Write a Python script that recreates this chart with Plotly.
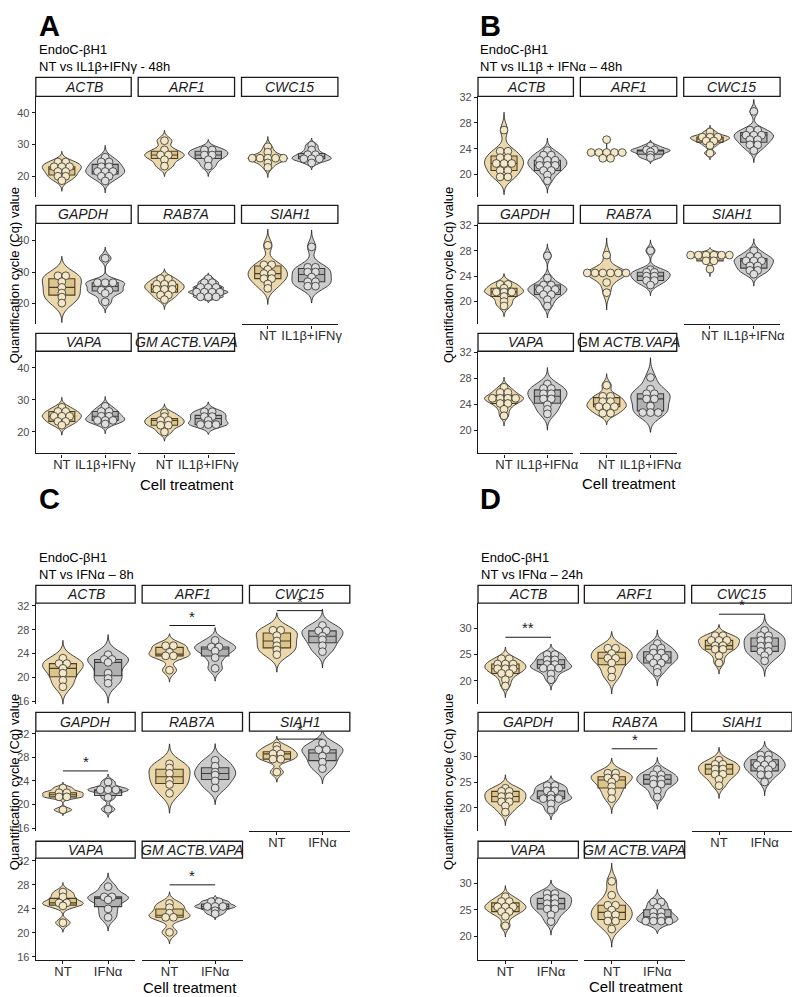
import numpy as np
import plotly.graph_objects as go

# page body has an 8px margin: the figure is drawn 8px in from the top-left corner
OFF = 8
FW, FH = 792, 989
FONT = "Liberation Sans, Arial, sans-serif"


def px(x):
    return (x - OFF) / FW


def py(y):
    return 1 - (y - OFF) / FH


GENES = ["ACTB", "ARF1", "CWC15", "GAPDH", "RAB7A", "SIAH1", "VAPA", "GM ACTB.VAPA"]
STRIP_ITALIC = ["<i>ACTB</i>", "<i>ARF1</i>", "<i>CWC15</i>", "<i>GAPDH</i>", "<i>RAB7A</i>",
                "<i>SIAH1</i>", "<i>VAPA</i>", "<i>GM ACTB.VAPA</i>"]
STRIP_B = STRIP_ITALIC[:7] + ["GM <i>ACTB.VAPA</i>"]

# ---------------- data (Cq values) ----------------
A_NT = {
    "ACTB": [24.5, 24.5, 23.0, 23.0, 23.0, 21.5, 21.5, 20.0, 20.0, 18.6],
    "ARF1": [31.2, 28.3, 26.7, 26.7, 25.2, 23.2],
    "CWC15": [29.3, 27.6, 25.7, 25.7, 25.7, 25.7, 25.7, 24.2, 22.8],
    "GAPDH": [28.8, 28.8, 26.9, 25.1, 23.3, 22.0, 20.1],
    "RAB7A": [27.9, 27.9, 26.1, 26.1, 26.1, 24.5, 24.5, 24.5, 22.7, 22.7, 21.2],
    "SIAH1": [38.5, 32.3, 32.3, 30.8, 29.5, 29.5, 27.9, 27.9, 26.2, 24.8],
    "VAPA": [27.7, 26.4, 26.4, 24.9, 24.9, 24.9, 23.3, 23.3, 22.1],
    "GM ACTB.VAPA": [25.9, 24.8, 23.6, 23.6, 22.1, 22.1, 20.0],
}
A_TR = {
    "ACTB": [26.0, 24.5, 24.5, 23.0, 23.0, 21.5, 21.5, 21.5, 20.0, 20.0, 18.5],
    "ARF1": [28.3, 28.3, 26.7, 26.7, 25.2, 23.2],
    "CWC15": [29.8, 28.3, 26.8, 26.8, 25.5, 25.5, 25.5, 24.2],
    "GAPDH": [34.4, 26.6, 26.6, 26.6, 24.2, 24.2, 23.2, 20.5],
    "RAB7A": [27.9, 26.6, 26.6, 25.1, 25.1, 25.1, 23.6, 23.6, 23.6, 23.6, 22.1, 22.1, 22.1],
    "SIAH1": [38.0, 31.5, 31.5, 30.0, 30.0, 28.4, 26.9, 26.9, 25.5, 25.5],
    "VAPA": [28.0, 26.4, 26.4, 24.9, 24.9, 23.6, 23.6, 23.6, 22.5],
    "GM ACTB.VAPA": [26.3, 26.3, 24.8, 24.8, 23.6, 22.3, 22.3, 22.3],
}
B_NT = {
    "ACTB": [26.9, 23.6, 23.6, 22.6, 22.6, 21.7, 21.7, 21.7, 20.6, 20.6, 19.6, 19.6],
    "ARF1": [25.4, 23.4, 23.4, 23.4, 23.4, 23.4, 22.5, 22.5],
    "CWC15": [26.6, 25.8, 25.8, 25.8, 25.2, 25.2, 24.5, 23.3],
    "GAPDH": [22.7, 22.7, 22.1, 21.5, 21.5, 21.5, 20.8, 20.0, 19.3],
    "RAB7A": [27.3, 24.5, 24.5, 24.5, 24.5, 24.5, 24.5, 23.0, 21.4],
    "SIAH1": [27.3, 27.3, 27.3, 27.3, 27.3, 27.3, 26.4, 26.4, 25.1],
    "VAPA": [26.6, 25.8, 25.8, 24.9, 24.9, 24.9, 24.9, 24.1, 24.1, 23.2, 22.2],
    "GM ACTB.VAPA": [26.9, 25.2, 25.2, 24.4, 24.4, 23.6, 23.6, 23.6, 22.6, 22.6],
}
B_TR = {
    "ACTB": [23.7, 23.0, 23.0, 22.2, 22.2, 22.2, 21.4, 21.4, 21.4, 20.6, 20.6, 19.9, 19.0],
    "ARF1": [24.4, 23.8, 23.8, 23.5, 23.0, 22.6],
    "CWC15": [29.8, 26.9, 26.9, 26.1, 26.1, 26.1, 25.4, 25.4, 24.6, 24.6, 23.7],
    "GAPDH": [27.2, 23.7, 22.6, 22.6, 21.9, 21.9, 21.9, 21.1, 21.1, 20.3, 19.3],
    "RAB7A": [28.0, 25.0, 24.6, 24.6, 24.0, 24.0, 23.3, 23.3, 22.6],
    "SIAH1": [28.0, 27.1, 27.1, 26.4, 26.4, 26.4, 25.6, 25.6, 24.9, 24.9, 24.3],
    "VAPA": [27.1, 26.4, 26.4, 25.6, 25.6, 24.8, 24.8, 23.9, 23.2, 22.5],
    "GM ACTB.VAPA": [28.1, 26.3, 25.6, 25.6, 24.8, 24.8, 23.7, 22.7, 22.7, 22.7],
}
C_NT = {
    "ACTB": [23.2, 22.3, 22.3, 21.5, 20.7, 19.5, 18.4],
    "ARF1": [25.3, 25.3, 24.2, 23.6, 23.6, 21.2],
    "CWC15": [27.9, 27.9, 27.0, 26.1, 25.3, 24.6, 23.8],
    "GAPDH": [22.8, 22.0, 22.0, 21.3, 21.3, 19.1],
    "RAB7A": [26.9, 26.2, 25.3, 24.1, 23.4, 21.9],
    "SIAH1": [29.9, 29.3, 28.6, 28.6, 27.7, 27.7, 25.5],
    "VAPA": [26.8, 26.0, 25.0, 25.0, 24.5, 21.7],
    "GM ACTB.VAPA": [24.9, 24.2, 23.3, 22.6, 22.6, 20.1],
}
C_TR = {
    "ACTB": [23.8, 23.0, 23.0, 22.5, 20.7, 19.8, 19.0],
    "ARF1": [26.2, 25.1, 25.1, 24.4, 23.3, 21.5],
    "CWC15": [28.7, 27.8, 27.8, 26.9, 26.3, 25.3, 24.3],
    "GAPDH": [23.8, 22.5, 22.5, 22.5, 21.2, 19.2],
    "RAB7A": [27.5, 26.5, 25.5, 25.0, 24.0, 22.8],
    "SIAH1": [30.4, 29.3, 29.3, 28.2, 27.2, 26.1],
    "VAPA": [27.7, 26.0, 26.0, 25.5, 24.0, 22.6],
    "GM ACTB.VAPA": [25.2, 25.2, 24.4, 24.4, 24.4, 23.7, 23.2],
}
D_NT = {
    "ACTB": [24.2, 24.2, 23.2, 23.2, 23.2, 22.3, 22.3, 22.3, 21.4, 21.4, 20.2, 19.0],
    "ARF1": [26.2, 26.2, 25.2, 24.3, 24.3, 23.4, 22.0, 20.7],
    "CWC15": [28.6, 28.6, 27.7, 27.7, 27.7, 26.7, 26.7, 26.0, 26.0, 24.8, 23.4],
    "GAPDH": [23.8, 23.2, 23.2, 22.2, 22.2, 21.2, 21.2, 20.4, 19.2],
    "RAB7A": [26.7, 26.7, 25.8, 25.8, 25.0, 24.1, 23.1, 21.8],
    "SIAH1": [29.2, 28.4, 28.4, 27.5, 27.5, 26.5, 26.5, 25.5, 24.3],
    "VAPA": [27.5, 26.6, 26.6, 25.6, 25.6, 25.6, 24.7, 24.7, 23.8, 22.0],
    "GM ACTB.VAPA": [30.4, 27.8, 25.9, 25.9, 25.0, 24.1, 24.1, 22.9, 22.9, 21.4],
}
D_TR = {
    "ACTB": [25.0, 25.0, 24.0, 24.0, 23.1, 23.1, 22.4, 22.4, 22.4, 21.3, 20.2],
    "ARF1": [27.1, 26.2, 26.2, 25.3, 25.3, 24.4, 24.4, 24.4, 23.4, 23.4, 22.4, 21.6],
    "CWC15": [29.6, 28.6, 28.6, 27.7, 27.7, 26.6, 26.6, 25.6, 25.6, 24.8, 23.8],
    "GAPDH": [24.3, 24.3, 23.3, 23.3, 22.5, 21.8, 21.8, 21.8, 20.8, 19.6],
    "RAB7A": [27.4, 26.4, 26.4, 25.5, 25.5, 24.6, 24.6, 23.4, 22.1],
    "SIAH1": [30.2, 30.2, 29.3, 29.3, 28.3, 28.3, 28.3, 27.4, 27.4, 26.4, 26.4, 25.0],
    "VAPA": [28.1, 28.1, 27.2, 27.2, 26.2, 26.2, 25.2, 25.2, 24.1, 22.8],
    "GM ACTB.VAPA": [26.5, 26.5, 25.5, 24.6, 24.6, 23.7, 23.7, 22.9, 22.9, 22.9, 22.9],
}

A_TICKS = [20, 30, 40]
B_TICKS = [20, 24, 28, 32]
C_TICKS = [16, 20, 24, 28, 32]
D_TICKS = [20, 25, 30]

A_XLABELS = ["NT", "IL1β+IFNγ"]
B_XLABELS = ["NT", "IL1β+IFNα"]
CD_XLABELS = ["NT", "IFNα"]

# significance: (panel, gene, y value of bar, label)
SIG = [
    ("C", "ARF1", 28.7, "*"),
    ("C", "CWC15", 31.2, "*"),
    ("C", "GAPDH", 25.7, "*"),
    ("C", "SIAH1", 31.1, "*"),
    ("C", "GM ACTB.VAPA", 28.0, "*"),
    ("D", "ACTB", 28.3, "**"),
    ("D", "CWC15", 32.7, "*"),
    ("D", "RAB7A", 31.4, "*"),
]

# ---------------- styling / layout ----------------
NT_VIOLIN = "#EBD8AC"
TR_VIOLIN = "#CBCBCB"
NT_BOX = "rgba(205,175,110,0.5)"
TR_BOX = "rgba(150,150,150,0.5)"
NT_BOXLINE = "#4a3f25"
TR_BOXLINE = "#3c3c3c"
NT_PT = "#F4E7C6"
TR_PT = "#DEDEDE"
AXC = "#1a1a1a"
DOT_PX = 7.8

ROWS_AB = [((73, 92), (92, 194)), ((202, 220), (221, 322)), ((331, 349), (349, 452))]
ROWS_CD = [((585, 603), (603, 705)), ((713, 732), (732, 833)), ((843, 860), (860, 963))]

PANELS = {
    "A": dict(nt=A_NT, tr=A_TR, ticks=A_TICKS, yrange=[13.3, 45.2], xlabels=A_XLABELS,
              cols=[(36, 132), (139, 236), (243, 340)], rows=ROWS_AB, strip=STRIP_ITALIC,
              letter=(37, 21), title=(37, 45), sub="NT vs IL1β+IFNγ - 48h",
              ytitle=(14.5, 272), xtitle=(188, 483)),
    "B": dict(nt=B_NT, tr=B_TR, ticks=B_TICKS, yrange=[16.4, 32.15], xlabels=B_XLABELS,
              cols=[(481, 577), (584, 681), (688, 785)], rows=ROWS_AB, strip=STRIP_B,
              letter=(481, 21), title=(481, 45), sub="NT vs IL1β + IFNα – 48h",
              ytitle=(452, 272), xtitle=(633, 482)),
    "C": dict(nt=C_NT, tr=C_TR, ticks=C_TICKS, yrange=[15.45, 32.45], xlabels=CD_XLABELS,
              cols=[(36, 136), (143, 244), (251, 352)], rows=ROWS_CD, strip=STRIP_ITALIC,
              letter=(37, 498), title=(37, 557), sub="NT vs IFNα – 8h",
              ytitle=(14.5, 783), xtitle=(191, 990)),
    "D": dict(nt=D_NT, tr=D_TR, ticks=D_TICKS, yrange=[15.5, 34.8], xlabels=CD_XLABELS,
              cols=[(481, 582), (588, 689), (696, 797)], rows=ROWS_CD, strip=STRIP_ITALIC,
              letter=(481, 498), title=(482, 557), sub="NT vs IFNα – 24h",
              ytitle=(452, 783), xtitle=(640, 989)),
}


def nrd0(v):
    v = np.asarray(v, dtype=float)
    n = len(v)
    hi = v.std(ddof=1)
    q75, q25 = np.percentile(v, [75, 25])
    lo = min(hi, (q75 - q25) / 1.34)
    if lo <= 0:
        lo = hi if hi > 0 else (abs(v[0]) if v[0] != 0 else 1.0)
    return 0.9 * lo * n ** -0.2


fig = go.Figure()
axes = {}
shapes = []
annotations = []
axis_of = {}
ax_i = 0
for pkey, P in PANELS.items():
    for gi, gene in enumerate(GENES):
        ax_i += 1
        sfx = "" if ax_i == 1 else str(ax_i)
        xref, yref = "x" + sfx, "y" + sfx
        axis_of[(pkey, gene)] = (xref, yref)
        r, c = divmod(gi, 3)
        x0, x1 = P["cols"][c]
        (s0, s1), (p0, p1) = P["rows"][r]
        left = c == 0
        bottom = gi in (5, 6, 7)
        axes["xaxis" + sfx] = dict(
            domain=[px(x0), px(x1)], range=[0.4, 2.6], anchor=yref, type="linear",
            showgrid=False, zeroline=False, showline=bottom, linecolor=AXC, linewidth=1.3,
            ticks="outside" if bottom else "", ticklen=3, tickwidth=1, tickcolor=AXC,
            tickvals=[1, 2], ticktext=P["xlabels"], showticklabels=bottom,
            ticklabelstandoff=-4,
            tickfont=dict(size=13, color="#2b2b2b", family=FONT), fixedrange=True)
        axes["yaxis" + sfx] = dict(
            domain=[py(p1), py(p0)], range=P["yrange"], anchor=xref,
            showgrid=False, zeroline=False, showline=left, linecolor=AXC, linewidth=1.3,
            ticks="outside" if left else "", ticklen=3, tickwidth=1, tickcolor=AXC,
            tickvals=P["ticks"], showticklabels=left,
            tickfont=dict(size=11, color="#4d4d4d", family=FONT), fixedrange=True)
        shapes.append(dict(type="rect", xref="paper", yref="paper",
                           x0=px(x0), x1=px(x1), y0=py(s1), y1=py(s0),
                           line=dict(color=AXC, width=1.3), fillcolor="white", layer="above"))
        annotations.append(dict(xref="paper", yref="paper", x=px((x0 + x1) / 2),
                                y=py((s0 + s1) / 2), text=P["strip"][gi], showarrow=False,
                                xanchor="center", yanchor="middle",
                                font=dict(size=14, color=AXC, family=FONT)))
        dot_dx = DOT_PX / ((x1 - x0) / 2.2)
        groups = [(P["nt"], NT_VIOLIN, NT_BOX, NT_BOXLINE, NT_PT),
                  (P["tr"], TR_VIOLIN, TR_BOX, TR_BOXLINE, TR_PT)]
        for pos, (data, vcol, bcol, blcol, pcol) in enumerate(groups, start=1):
            vals = np.array(data[gene], dtype=float)
            bw = nrd0(vals)
            fig.add_trace(go.Violin(
                x=[pos] * len(vals), y=vals, xaxis=xref, yaxis=yref,
                bandwidth=bw, spanmode="manual", span=[vals.min() - 3 * bw, vals.max() + 3 * bw],
                scalegroup=f"{pkey}-{gene}", scalemode="width", width=0.9,
                points=False, box_visible=False, meanline_visible=False,
                fillcolor=vcol, line=dict(color=AXC, width=0.8), opacity=1,
                hoverinfo="skip", showlegend=False))
            q1, med, q3 = np.percentile(vals, [25, 50, 75])
            fig.add_trace(go.Box(
                x=[pos], q1=[q1], median=[med], q3=[q3], lowerfence=[q1], upperfence=[q3],
                xaxis=xref, yaxis=yref, width=0.6, whiskerwidth=0, boxpoints=False,
                fillcolor=bcol, line=dict(color=blcol, width=1.1),
                hoverinfo="skip", showlegend=False))
            xs = np.empty(len(vals))
            for v in np.unique(vals):
                idx = np.where(vals == v)[0]
                k = len(idx)
                xs[idx] = pos + (np.arange(k) - (k - 1) / 2) * dot_dx
            fig.add_trace(go.Scatter(
                x=xs, y=vals, xaxis=xref, yaxis=yref, mode="markers",
                marker=dict(size=DOT_PX, color=pcol, line=dict(color="#2e2e2e", width=0.8)),
                hoverinfo="skip", showlegend=False))

    # panel texts
    lx, ly = P["letter"]
    annotations.append(dict(xref="paper", yref="paper", x=px(lx), y=py(ly), text="<b>" + pkey + "</b>",
                            showarrow=False, xanchor="left", yanchor="middle",
                            font=dict(size=29, color="black", family=FONT)))
    tx, ty = P["title"]
    annotations.append(dict(xref="paper", yref="paper", x=px(tx), y=py(ty), text="EndoC-βH1",
                            showarrow=False, xanchor="left", yanchor="middle",
                            font=dict(size=13, color="black", family=FONT)))
    annotations.append(dict(xref="paper", yref="paper", x=px(tx), y=py(ty + 17), text=P["sub"],
                            showarrow=False, xanchor="left", yanchor="middle",
                            font=dict(size=13, color="black", family=FONT)))
    yx, yy = P["ytitle"]
    annotations.append(dict(xref="paper", yref="paper", x=px(yx), y=py(yy),
                            text="Quantification cycle (Cq) value", textangle=-90,
                            showarrow=False, xanchor="center", yanchor="middle",
                            font=dict(size=13, color="black", family=FONT)))
    cx, cy = P["xtitle"]
    annotations.append(dict(xref="paper", yref="paper", x=px(cx), y=py(cy), text="Cell treatment",
                            showarrow=False, xanchor="center", yanchor="middle",
                            font=dict(size=15, color="black", family=FONT)))

for pkey, gene, yv, lab in SIG:
    xref, yref = axis_of[(pkey, gene)]
    fig.add_trace(go.Scatter(x=[1, 2], y=[yv, yv], xaxis=xref, yaxis=yref, mode="lines",
                             line=dict(color=AXC, width=1), hoverinfo="skip", showlegend=False))
    annotations.append(dict(xref=xref, yref=yref, x=1.5, y=yv, text=lab, showarrow=False,
                            xanchor="center", yanchor="bottom", yshift=-1,
                            font=dict(size=15, color=AXC, family=FONT)))

fig.update_layout(
    width=FW, height=FH, autosize=False,
    margin=dict(l=0, r=0, t=0, b=0),
    paper_bgcolor="white", plot_bgcolor="white",
    violinmode="overlay", boxmode="overlay",
    shapes=shapes, annotations=annotations,
    font=dict(family=FONT),
    showlegend=False,
    **axes,
)

fig.write_html("out.html")
